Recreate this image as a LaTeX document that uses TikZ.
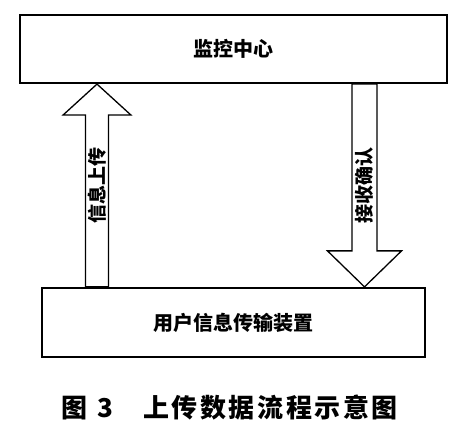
\documentclass[tikz,border=0pt]{standalone}
\usepackage{fontspec}
\setmainfont{Noto Sans CJK SC}
\usepackage{tikz}
\usetikzlibrary{calc, positioning}

\begin{document}
\begin{tikzpicture}[x=1pt, y=-1pt,
        box/.style={draw, line width=2.2pt, inner sep=0pt, font=\bfseries\fontsize{20}{20}\selectfont},
        blockarrow/.style={draw, line width=1.3pt, line join=miter},
        flowlabel/.style={inner sep=0pt, font=\bfseries\fontsize{19}{19}\selectfont},
        caption/.style={inner sep=0pt, font=\bfseries\fontsize{26}{26}\selectfont\addfontfeature{LetterSpace=10}}]
    \useasboundingbox (0,0) rectangle (469,430);
    \node[box, minimum width=427pt, minimum height=68pt] (monitor) at (233.5,49) {监控中心};
    \node[box, minimum width=383pt, minimum height=69pt] (device) at (233.5,322.5) {用户信息传输装置};
    % up: device -> monitor
    \path (monitor.south) ++(-136.5,0) coordinate (up_tip);
    \path (device.north) ++(-136.5,0) coordinate (up_tail);
    \draw[blockarrow] (up_tip) -- ++(-34,31) -- ++(22.5,0) |- ($(up_tail)+(-11.5,0)$)
        -- ++(23,0) |- ($(up_tip)+(34,31)$) -- cycle;
    \node[flowlabel, rotate=90] (up_text) at ($(up_tail)!0.5!(up_tip)$) {信息上传};
    % down: monitor -> device
    \path (device.north) ++(131,0) coordinate (dn_tip);
    \path (monitor.south) ++(131,0) coordinate (dn_tail);
    \draw[blockarrow] (dn_tip) -- ++(-37,-36) -- ++(24.5,0) |- ($(dn_tail)+(-12.5,0)$)
        -- ++(25,0) |- ($(dn_tip)+(37,-36)$) -- cycle;
    \node[flowlabel, rotate=90] (dn_text) at ($(dn_tail)!0.5!(dn_tip)$) {接收确认};
    \node[caption, anchor=west] (cap) at (61,408) {图\hspace{10pt}3\hspace{30pt}上传数据流程示意图};
\end{tikzpicture}
\end{document}
